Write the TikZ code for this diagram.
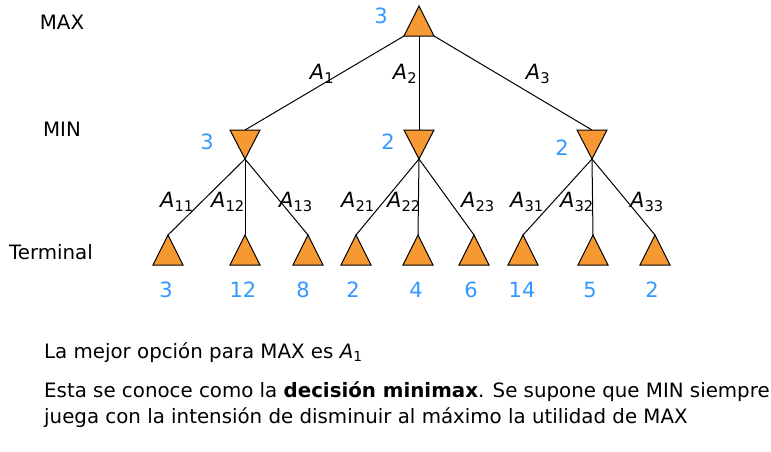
\documentclass[tikz,border=0pt]{standalone}
\usepackage{fontspec}
\setmainfont{DejaVu Sans}
\usetikzlibrary{calc}
\definecolor{triorange}{RGB}{247,153,51}
\definecolor{valblue}{RGB}{51,153,255}
\begin{document}
\begin{tikzpicture}[x=1pt,y=-1pt,
  font=\fontsize{19.8}{22}\selectfont,
  tri/.style={fill=triorange,draw=black,line width=1pt,line join=miter},
  edge/.style={draw=black,line width=1pt},
  val/.style={text=valblue,inner sep=0pt,font=\fontsize{21}{24}\selectfont},
  lbl/.style={inner sep=0pt},
  elbl/.style={inner sep=0pt,font=\fontsize{21}{24}\selectfont}
]
\useasboundingbox (0,0) rectangle (771,451);
% root
\coordinate (r) at (419,6);
\coordinate (rl) at (404,36);
\coordinate (rr) at (434,36);
\coordinate (rc) at (419,36);
% MIN tops
\coordinate (m1) at (245,130);
\coordinate (m2) at (419,130);
\coordinate (m3) at (592,130);
% MIN apices
\coordinate (m1a) at (245,159);
\coordinate (m2a) at (419,159);
\coordinate (m3a) at (592,159);
% leaves apex
\foreach \n/\x in {1/168,2/245,3/308,4/356,5/418,6/474,7/523,8/593,9/655}{
  \coordinate (l\n) at (\x,235);
}
% edges
\draw[edge] (rl) -- (m1);
\draw[edge] (rc) -- (m2);
\draw[edge] (rr) -- (m3);
\draw[edge] (m1a) -- (l1); \draw[edge] (m1a) -- (l2); \draw[edge] (m1a) -- (l3);
\draw[edge] (m2a) -- (l4); \draw[edge] (m2a) -- (l5); \draw[edge] (m2a) -- (l6);
\draw[edge] (m3a) -- (l7); \draw[edge] (m3a) -- (l8); \draw[edge] (m3a) -- (l9);
% triangles
\draw[tri] (r) -- (rr) -- (rl) -- cycle;
\foreach \m in {m1,m2,m3}{
  \draw[tri] (\m a) -- ($(\m)+(15,0)$) -- ($(\m)+(-15,0)$) -- cycle;
}
\foreach \n in {1,...,9}{
  \draw[tri] (l\n) -- ($(l\n)+(15,30)$) -- ($(l\n)+(-15,30)$) -- cycle;
}
% values
\node[val] (v0) at (381,16) {3};
\node[val] (v1) at (207,142) {3};
\node[val] (v2) at (388,142) {2};
\node[val] (v3) at (562,148) {2};
\foreach \x/\t [count=\i] in {166/3,243/12,303/8,353/2,416/4,471/6,522/14,590/5,652/2}{
  \node[val] (t\i) at (\x,290) {\t};
}
% side labels
\node[lbl] (maxl) at (62,22) {MAX};
\node[lbl] (minl) at (62,129) {MIN};
\node[lbl] (terml) at (51,252) {Terminal};
% edge labels
\node[elbl] (a1) at (322,74) {\textit{A}\textsubscript{1}};
\node[elbl] (a2) at (405,74) {\textit{A}\textsubscript{2}};
\node[elbl] (a3) at (538,74) {\textit{A}\textsubscript{3}};
\node[elbl] (a11) at (177,202) {\textit{A}\textsubscript{11}};
\node[elbl] (a12) at (228,202) {\textit{A}\textsubscript{12}};
\node[elbl] (a13) at (296,202) {\textit{A}\textsubscript{13}};
\node[elbl] (a21) at (358,202) {\textit{A}\textsubscript{21}};
\node[elbl] (a22) at (404,202) {\textit{A}\textsubscript{22}};
\node[elbl] (a23) at (478,202) {\textit{A}\textsubscript{23}};
\node[elbl] (a31) at (527,202) {\textit{A}\textsubscript{31}};
\node[elbl] (a32) at (577,202) {\textit{A}\textsubscript{32}};
\node[elbl] (a33) at (647,202) {\textit{A}\textsubscript{33}};
% bottom text
\node[lbl,anchor=west] (txt1) at (44,353) {La mejor opción para MAX es \textit{A}\textsubscript{1}};
\node[lbl,anchor=west] (txt2) at (44,392) {Esta se conoce como la \textbf{decisión minimax}. Se supone que MIN siempre};
\node[lbl,anchor=west] (txt3) at (44,418) {juega con la intensión de disminuir al máximo la utilidad de MAX};
\end{tikzpicture}
\end{document}
